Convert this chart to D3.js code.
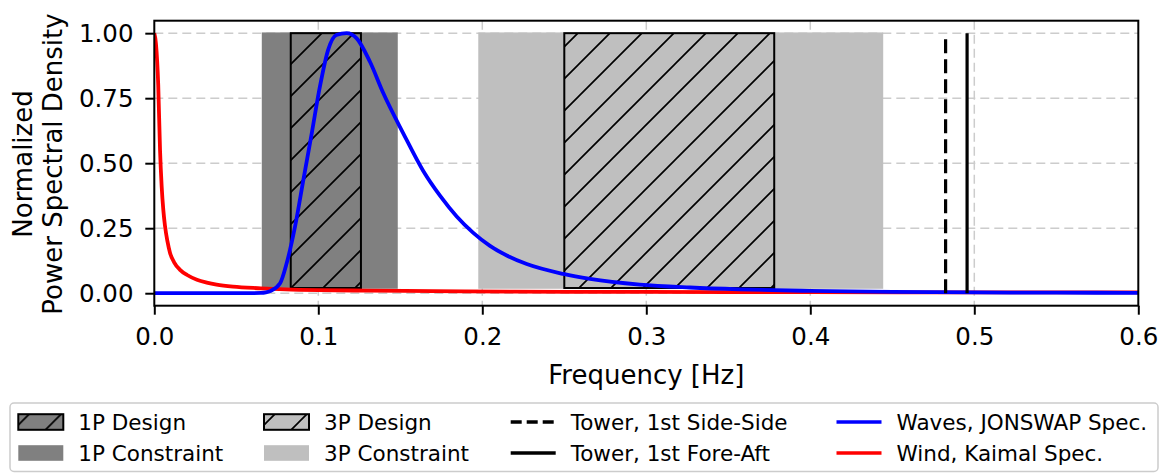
<!DOCTYPE html>
<html>
<head>
<meta charset="utf-8">
<script src="https://cdn.jsdelivr.net/npm/d3@7"></script>
<style>
  body { margin: 0; background: #fff; }
  text { font-family: "DejaVu Sans", sans-serif; fill: #000; }
</style>
</head>
<body>
<svg id="chart" width="1164" height="473"></svg>
<script>
  // rotor bands [Hz]
  const bandNames = ['1P', '3P'];
  const designBands = [[0.0832, 0.126], [0.250, 0.378]];
  const constraintBands = [[0.0660, 0.148], [0.198, 0.444]];
  const bandColors = ['#808080', '#bfbfbf'];

  // tower natural frequencies [Hz]
  const towerNames = ['Tower, 1st Side-Side', 'Tower, 1st Fore-Aft'];
  const towerFreqs = [0.4825, 0.4956];

  // JONSWAP wave spectrum
  const waveFreq = [0, 0.05, 0.065, 0.068, 0.0707, 0.0767, 0.0807, 0.0858, 0.0909, 0.096, 0.101, 0.106, 0.111, 0.1173,
    0.1234, 0.1315, 0.1396, 0.1518, 0.164, 0.1742, 0.1844, 0.1945, 0.2047, 0.2149, 0.2271, 0.2494, 0.2657,
    0.296, 0.3266, 0.357, 0.4, 0.45, 0.5, 0.55, 0.6];
  const waveVal = [0, 0, 0.001, 0.003, 0.008, 0.038, 0.115, 0.256, 0.436, 0.615, 0.795, 0.936, 0.993, 1.0,
    0.98, 0.89, 0.77, 0.615, 0.47, 0.375, 0.295, 0.232, 0.182, 0.145, 0.112, 0.074, 0.055,
    0.033, 0.022, 0.015, 0.009, 0.005, 0.003, 0.002, 0.0015];

  // Kaimal wind spectrum
  const windFreq = [0, 0.001, 0.0024, 0.0035, 0.0045, 0.0055, 0.0065, 0.008, 0.0096, 0.012, 0.0157, 0.02, 0.026,
    0.032, 0.038, 0.048, 0.065, 0.08, 0.1, 0.13, 0.17, 0.22, 0.3, 0.4, 0.5, 0.6];
  const windVal = [1.0, 0.96, 0.8, 0.55, 0.41, 0.32, 0.26, 0.2, 0.155, 0.12, 0.09, 0.07, 0.052,
    0.041, 0.033, 0.025, 0.019, 0.015, 0.012, 0.01, 0.008, 0.006, 0.005, 0.004, 0.003, 0.003];

  const xTicks = [0, 0.1, 0.2, 0.3, 0.4, 0.5, 0.6];
  const xTickLabels = ['0.0', '0.1', '0.2', '0.3', '0.4', '0.5', '0.6'];
  const yTicks = [0, 0.25, 0.5, 0.75, 1.0];
  const yTickLabels = ['0.00', '0.25', '0.50', '0.75', '1.00'];

  const PLOT = {left: 154.3, right: 1138.3, top: 20.7, bottom: 305.7};
  const BOX_LOW = 0.02, BOX_HIGH = 1.0;

  const x = d3.scaleLinear().domain([0, 0.6]).range([PLOT.left, PLOT.right]);
  const y = d3.scaleLinear().domain([-0.048, 1.048]).range([PLOT.bottom, PLOT.top]);

  const svg = d3.select('#chart');
  const defs = svg.append('defs');

  defs.append('clipPath').attr('id', 'plotClip')
    .append('rect')
    .attr('x', PLOT.left).attr('y', PLOT.top)
    .attr('width', PLOT.right - PLOT.left).attr('height', PLOT.bottom - PLOT.top);

  const hatch = defs.append('pattern')
    .attr('id', 'hatch')
    .attr('patternUnits', 'userSpaceOnUse')
    .attr('width', 32).attr('height', 32)
    .attr('patternTransform', 'translate(3,0)');
  hatch.append('path')
    .attr('d', 'M0,32L32,0M-8,8L8,-8M24,40L40,24')
    .attr('stroke', '#000')
    .attr('stroke-width', 1.7);

  // grid
  const grid = svg.append('g');
  grid.selectAll('.hgrid')
    .data(yTicks)
    .enter().append('line')
    .attr('x1', PLOT.left).attr('x2', PLOT.right)
    .attr('y1', d => y(d)).attr('y2', d => y(d))
    .attr('stroke', '#cccccc').attr('stroke-width', 1.5).attr('stroke-dasharray', '9,5');
  grid.selectAll('.vgrid')
    .data(xTicks.slice(1, -1))
    .enter().append('line')
    .attr('x1', d => x(d)).attr('x2', d => x(d))
    .attr('y1', PLOT.top).attr('y2', PLOT.bottom)
    .attr('stroke', '#cccccc').attr('stroke-width', 1.5).attr('stroke-dasharray', '9,5');

  const plot = svg.append('g').attr('clip-path', 'url(#plotClip)');

  // constraint spans
  plot.selectAll('.constraint')
    .data(constraintBands)
    .enter().append('rect')
    .attr('x', d => x(d[0]))
    .attr('width', d => x(d[1]) - x(d[0]))
    .attr('y', y(BOX_HIGH))
    .attr('height', y(BOX_LOW) - y(BOX_HIGH))
    .attr('fill', (d, i) => bandColors[i])
    .attr('stroke', (d, i) => bandColors[i])
    .attr('stroke-width', 1.5);

  // design spans
  const design = plot.selectAll('.design')
    .data(designBands)
    .enter().append('g');
  design.append('rect')
    .attr('x', d => x(d[0]))
    .attr('width', d => x(d[1]) - x(d[0]))
    .attr('y', y(BOX_HIGH))
    .attr('height', y(BOX_LOW) - y(BOX_HIGH))
    .attr('fill', (d, i) => bandColors[i]);
  design.append('rect')
    .attr('x', d => x(d[0]))
    .attr('width', d => x(d[1]) - x(d[0]))
    .attr('y', y(BOX_HIGH))
    .attr('height', y(BOX_LOW) - y(BOX_HIGH))
    .attr('fill', 'url(#hatch)')
    .attr('stroke', '#000')
    .attr('stroke-width', 2);

  const line = d3.line()
    .x(d => x(d[0]))
    .y(d => y(d[1]))
    .curve(d3.curveMonotoneX);

  plot.append('path')
    .datum(d3.zip(windFreq, windVal))
    .attr('d', line)
    .attr('fill', 'none')
    .attr('stroke', '#ff0000')
    .attr('stroke-width', 3.8);

  plot.append('path')
    .datum(d3.zip(waveFreq, waveVal))
    .attr('d', line)
    .attr('fill', 'none')
    .attr('stroke', '#0000ff')
    .attr('stroke-width', 3.8);

  plot.selectAll('.tower')
    .data(towerFreqs)
    .enter().append('line')
    .attr('x1', d => x(d)).attr('x2', d => x(d))
    .attr('y1', y(0)).attr('y2', y(1))
    .attr('stroke', '#000')
    .attr('stroke-width', 3.2)
    .attr('stroke-dasharray', (d, i) => i === 0 ? '14,6' : null);

  // axes
  const xAxis = svg.append('g')
    .attr('transform', `translate(0,${PLOT.bottom})`)
    .call(d3.axisBottom(x).tickValues(xTicks).tickFormat((d, i) => xTickLabels[i]).tickSize(9).tickPadding(13));
  const yAxis = svg.append('g')
    .attr('transform', `translate(${PLOT.left},0)`)
    .call(d3.axisLeft(y).tickValues(yTicks).tickFormat((d, i) => yTickLabels[i]).tickSize(9).tickPadding(11.8));
  [xAxis, yAxis].forEach(a => {
    a.select('.domain').remove();
    a.selectAll('.tick line').attr('stroke', '#000').attr('stroke-width', 2);
    a.selectAll('.tick text')
      .attr('fill', '#000')
      .style('font-family', '"DejaVu Sans", sans-serif')
      .style('font-size', '24.5px');
  });

  svg.append('rect')
    .attr('x', PLOT.left).attr('y', PLOT.top)
    .attr('width', PLOT.right - PLOT.left).attr('height', PLOT.bottom - PLOT.top)
    .attr('fill', 'none').attr('stroke', '#000').attr('stroke-width', 2);

  // axis labels
  svg.append('text')
    .attr('x', (PLOT.left + PLOT.right) / 2)
    .attr('y', 384)
    .attr('text-anchor', 'middle')
    .style('font-size', '26px')
    .text('Frequency [Hz]');

  const yLabel = svg.append('text')
    .attr('transform', 'translate(0,164) rotate(-90)')
    .attr('text-anchor', 'middle')
    .style('font-size', '26px');
  yLabel.append('tspan').attr('x', 0).attr('y', 31.5).text('Normalized');
  yLabel.append('tspan').attr('x', 0).attr('y', 61.5).text('Power Spectral Density');

  // legend
  const legend = svg.append('g');
  legend.append('rect')
    .attr('x', 10).attr('y', 403)
    .attr('width', 1148).attr('height', 68.5)
    .attr('rx', 4).attr('ry', 4)
    .attr('fill', '#fff').attr('fill-opacity', 0.8)
    .attr('stroke', '#cccccc').attr('stroke-width', 1.5);

  const colX = [18.3, 264, 510.7, 836.5];
  const rowY = [422, 453];
  const handleW = 45, textGap = 15;

  const legendItems = [];
  bandNames.forEach((n, i) => {
    legendItems.push({col: i, row: 0, kind: 'design', color: bandColors[i], label: n + ' Design'});
    legendItems.push({col: i, row: 1, kind: 'constraint', color: bandColors[i], label: n + ' Constraint'});
  });
  towerNames.forEach((n, i) => {
    legendItems.push({col: 2, row: i, kind: 'line', color: '#000', dash: i === 0 ? '11,5' : null, label: n});
  });
  legendItems.push({col: 3, row: 0, kind: 'line', color: '#0000ff', label: 'Waves, JONSWAP Spec.'});
  legendItems.push({col: 3, row: 1, kind: 'line', color: '#ff0000', label: 'Wind, Kaimal Spec.'});

  const item = legend.selectAll('.item')
    .data(legendItems)
    .enter().append('g')
    .attr('transform', d => `translate(${colX[d.col]},${rowY[d.row]})`);

  item.filter(d => d.kind !== 'line').append('rect')
    .attr('x', 0).attr('y', -7.8).attr('width', handleW).attr('height', 15.6)
    .attr('fill', d => d.color);
  item.filter(d => d.kind === 'design').append('rect')
    .attr('x', 0).attr('y', -7.8).attr('width', handleW).attr('height', 15.6)
    .attr('fill', 'url(#hatch)')
    .attr('stroke', '#000').attr('stroke-width', 2);
  item.filter(d => d.kind === 'line').append('line')
    .attr('x1', 0).attr('x2', handleW)
    .attr('y1', 0).attr('y2', 0)
    .attr('stroke', d => d.color)
    .attr('stroke-width', 3.6)
    .attr('stroke-dasharray', d => d.dash);

  item.append('text')
    .attr('x', handleW + textGap)
    .attr('y', 7.7)
    .style('font-size', '21.5px')
    .text(d => d.label);
</script>
</body>
</html>
